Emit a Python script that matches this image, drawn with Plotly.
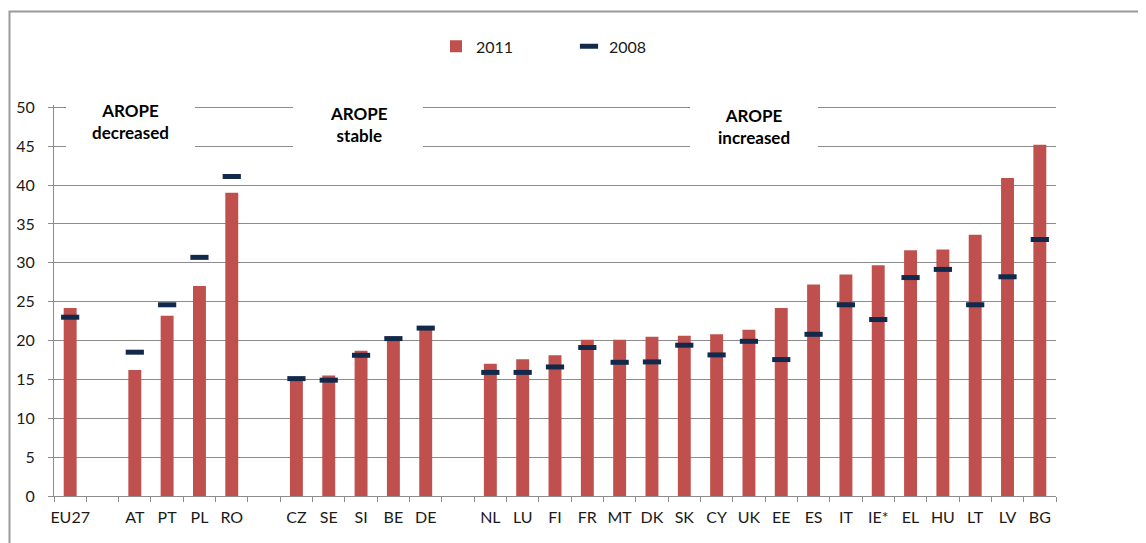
import plotly.graph_objects as go

# ---- data ----
groups = [
    ["EU27"],
    ["AT", "PT", "PL", "RO"],
    ["CZ", "SE", "SI", "BE", "DE"],
    ["NL", "LU", "FI", "FR", "MT", "DK", "SK", "CY", "UK", "EE", "ES", "IT",
     "IE*", "EL", "HU", "LT", "LV", "BG"],
]
values_2011 = [24.2,
               16.2, 23.2, 27.0, 39.0,
               15.2, 15.5, 18.7, 20.0, 21.4,
               17.0, 17.6, 18.1, 20.1, 20.1, 20.5, 20.6, 20.8, 21.4, 24.2,
               27.2, 28.5, 29.7, 31.6, 31.7, 33.6, 40.9, 45.2]
values_2008 = [23.0,
               18.5, 24.6, 30.7, 41.1,
               15.1, 14.9, 18.1, 20.25, 21.6,
               15.9, 15.9, 16.6, 19.1, 17.2, 17.25, 19.4, 18.15, 19.9, 17.55,
               20.8, 24.6, 22.7, 28.1, 29.15, 24.6, 28.2, 33.0]
group_labels = ["AROPE<br>decreased", "AROPE<br>stable", "AROPE<br>increased"]
series_names = ["2011", "2008"]
y_ticks = list(range(0, 51, 5))

# category positions: one empty slot between groups
categories, positions = [], []
pos = 0
for g in groups:
    for c in g:
        categories.append(c)
        positions.append(pos)
        pos += 1
    pos += 1
last = positions[-1]
n_slots = last + 1

# ---- layout geometry (page pixels; the page body has an 8px margin) ----
OFF = 8
W, H = 1146 - OFF, 543 - OFF
YMAX = 50.3
L, R, B = 54, 1056, 496
Y50 = 107
T = B - (B - Y50) * YMAX / 50
FONT = "Lato"
RED = "#C0504D"
NAVY = "#13294B"
GRID = "#8c8c8c"


def px_x(px):
    return (px - L) / (R - L)


def px_y(py):
    return (B - py) / (B - T)


def dx(px):
    return -0.5 + (px - L) / (R - L) * n_slots


def dy(py):
    return (B - py) / (B - T) * YMAX


fig = go.Figure()
fig.add_trace(go.Bar(
    x=positions, y=values_2011, name=series_names[0],
    marker=dict(color=RED, line=dict(width=0)), width=0.4,
))
fig.add_trace(go.Scatter(
    x=positions, y=values_2008, name=series_names[1], mode="markers",
    marker=dict(symbol="line-ew", size=13, color=NAVY,
                line=dict(width=5, color=NAVY)),
))

# white boxes behind the group labels (interrupting gridlines)
boxes = [(66, 195), (293, 423), (690, 818)]
for x0, x1 in boxes:
    fig.add_shape(type="rect", xref="x", yref="y", layer="between",
                  x0=dx(x0), x1=dx(x1), y0=dy(153), y1=dy(95),
                  fillcolor="white", line=dict(width=0))

label_pos = [(130.5, 121.5), (359, 124.3), (754, 126)]
for txt, (cx, cy) in zip(group_labels, label_pos):
    a, b = txt.split("<br>")
    fig.add_annotation(text=f"<b>{a}</b><br><b>{b}</b>",
                       xref="paper", yref="paper", x=px_x(cx), y=px_y(cy),
                       xanchor="center", yanchor="middle", showarrow=False,
                       font=dict(family=FONT, size=17, color="#000000"))

# outer chart border (cropped at right/bottom)
fig.add_shape(type="rect", xref="paper", yref="paper",
              x0=px_x(9.5), x1=px_x(1170), y0=px_y(580), y1=px_y(11),
              line=dict(color="#9a9a9a", width=2), fillcolor="rgba(0,0,0,0)")

fig.update_layout(
    width=W, height=H,
    margin=dict(l=L - OFF, r=W - (R - OFF), t=T - OFF, b=H - (B - OFF), pad=0,
                autoexpand=False),
    paper_bgcolor="white", plot_bgcolor="white",
    font=dict(family=FONT, size=16, color="#1a1a1a"),
    showlegend=True,
    legend=dict(orientation="h", x=px_x(436), y=px_y(29), xanchor="left", yanchor="top",
                font=dict(family=FONT, size=16, color="#1a1a1a"),
                entrywidth=88, entrywidthmode="pixels", bgcolor="rgba(0,0,0,0)",
                itemwidth=30),
    xaxis=dict(
        range=[-0.5, last + 0.5], tickmode="array", tickvals=positions,
        ticktext=categories, ticks="", showgrid=False, zeroline=False,
        showline=True, linecolor=GRID, linewidth=1, automargin=False,
        ticklabelstandoff=7,
        minor=dict(tickmode="linear", tick0=0.5, dtick=1, ticks="outside",
                   ticklen=5, tickcolor=GRID, showgrid=False),
        tickfont=dict(family=FONT, size=16, color="#1a1a1a"),
    ),
    yaxis=dict(
        range=[0, YMAX], tickmode="array", tickvals=y_ticks, ticks="outside",
        ticklen=5, tickcolor=GRID, showgrid=True, gridcolor=GRID, gridwidth=1,
        zeroline=False, showline=True, linecolor=GRID, linewidth=1,
        automargin=False, ticklabelstandoff=10,
        tickfont=dict(family=FONT, size=16, color="#1a1a1a"),
    ),
    bargap=0.6,
)

fig.write_html("out.html")
